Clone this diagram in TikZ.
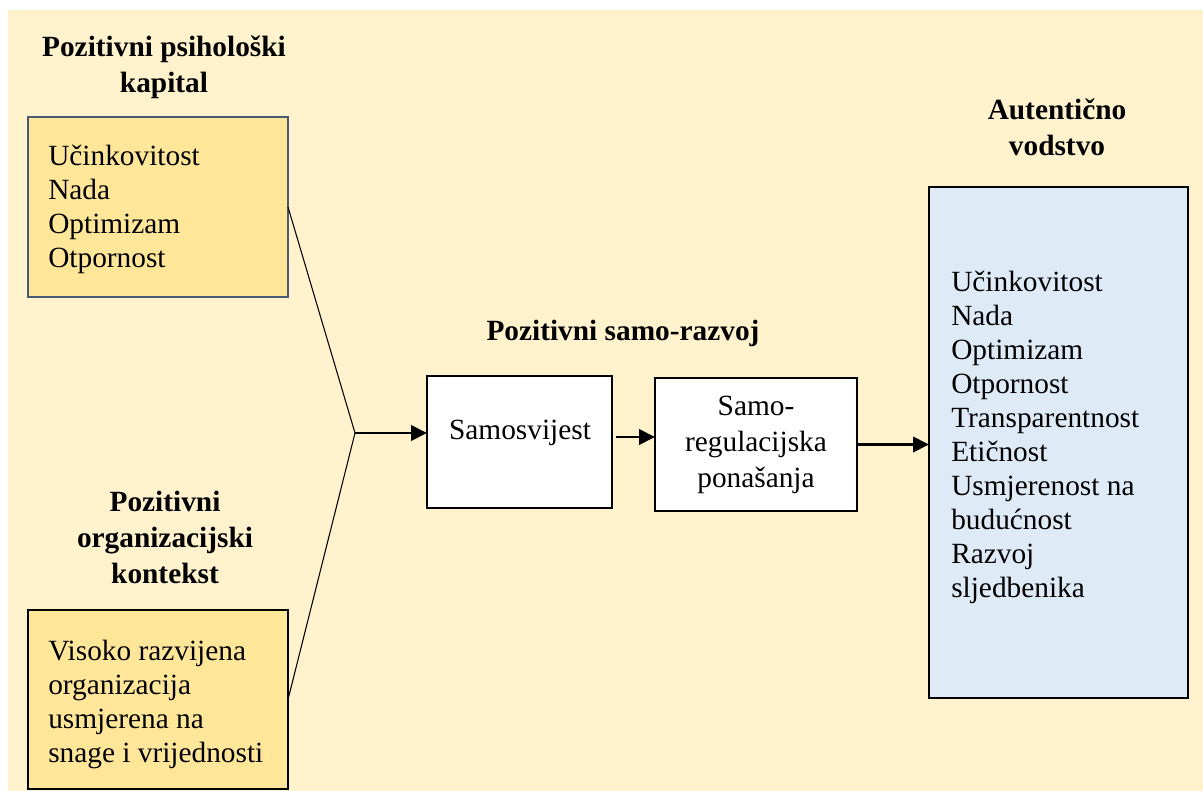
\documentclass[tikz,border=0pt]{standalone}
\usepackage{fontspec}
\setmainfont{Liberation Serif}
\usetikzlibrary{arrows.meta}
\definecolor{bgyellow}{HTML}{FFF2CC}
\definecolor{goldfill}{HTML}{FFE699}
\definecolor{slateborder}{HTML}{4A5A74}
\definecolor{bluefill}{HTML}{DEEBF7}
\tikzset{
  boxshape/.style={draw, line width=2pt, anchor=north west, inner sep=0pt, outer sep=0pt},
  bodytext/.style={font=\fontsize{22}{25.5}\selectfont, inner sep=0pt, align=left, anchor=base west},
  centertext/.style={font=\fontsize{22}{27}\selectfont, inner sep=0pt, align=center, anchor=base},
  titletext/.style={font=\bfseries\fontsize{22}{27}\selectfont, inner sep=0pt, align=center, anchor=base},
  arr/.style={line width=2pt, -{Triangle[length=12pt,width=11.5pt]}},
  thinline/.style={line width=0.8pt}
}
\begin{document}
\begin{tikzpicture}[x=0.75pt,y=-0.75pt]
\useasboundingbox (0,0) rectangle (1203,791);
\fill[white] (0,0) rectangle (1203,791);
\fill[bgyellow] (8,10) rectangle (1203,791);

% titles (anchored at the baseline of their last line)
\node[titletext] (t1) at (164,93) {Pozitivni psihološki\\kapital};
\node[titletext] (t2) at (165,583) {Pozitivni\\organizacijski\\kontekst};
\node[titletext] (t3) at (623,341) {Pozitivni samo-razvoj};
\node[titletext] (t4) at (1057,156) {Autentično\\vodstvo};

% boxes
\node[boxshape, fill=goldfill, draw=slateborder, minimum width=195pt, minimum height=135pt] (pc) at (28,117) {};
\node[boxshape, fill=goldfill, draw=black, minimum width=195pt, minimum height=134.25pt] (ok) at (28,610) {};
\node[boxshape, fill=white, minimum width=138.75pt, minimum height=99pt] (sam) at (427,376) {};
\node[boxshape, fill=white, minimum width=151.5pt, minimum height=99.75pt] (reg) at (655,378) {};
\node[boxshape, fill=bluefill, minimum width=194.25pt, minimum height=383.25pt] (av) at (929,187) {};

% box texts (anchored at the baseline of their last line)
\node[bodytext] (pctext) at (48,268) {Učinkovitost\\Nada\\Optimizam\\Otpornost};
\node[bodytext] (oktext) at (48,762) {Visoko razvijena\\organizacija\\usmjerena na\\snage i vrijednosti};
\node[centertext] (samtext) at (520,440) {Samosvijest};
\node[centertext] (regtext) at (756,487) {Samo-\\regulacijska\\ponašanja};
\node[bodytext] (avtext) at (951,597) {Učinkovitost\\Nada\\Optimizam\\Otpornost\\Transparentnost\\Etičnost\\Usmjerenost na\\budućnost\\Razvoj\\sljedbenika};

% connectors
\coordinate (j) at (355,433);
\coordinate (s2) at (616,437);
\draw[thinline] (pc.east) -- (j);
\draw[thinline] (ok.east) -- (j);
\draw[arr] (j) -- (sam.west |- j);
\draw[arr] (s2) -- (reg.west |- s2);
\draw[arr] (reg.east) -- (reg.east -| av.west);
\end{tikzpicture}
\end{document}
